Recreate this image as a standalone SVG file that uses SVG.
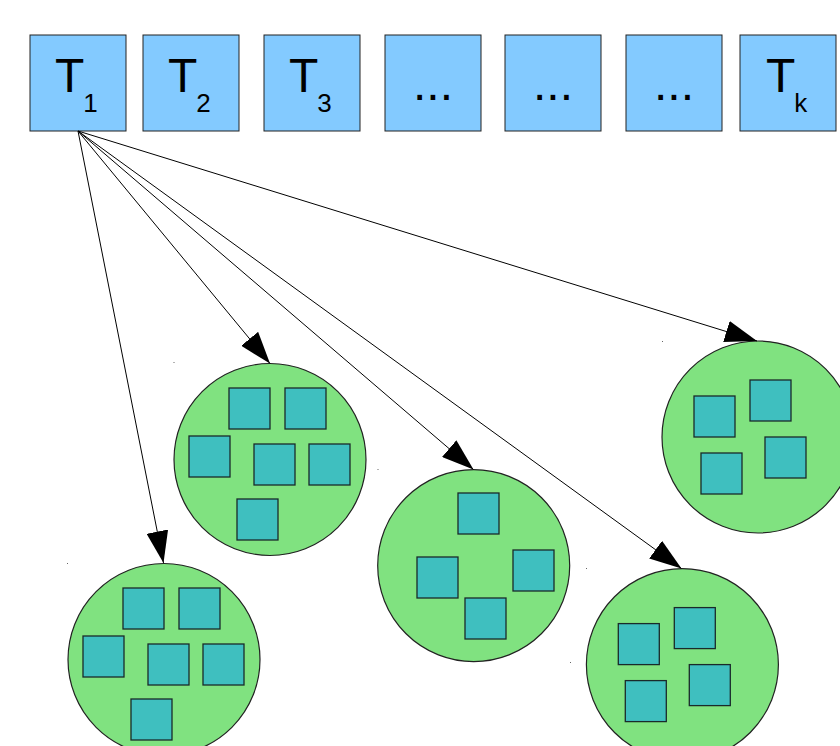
<svg xmlns="http://www.w3.org/2000/svg" width="840" height="746" viewBox="0 0 840 746">
<style>
.box{fill:#83caff;stroke:#222;stroke-width:1}
.t{font-family:"Liberation Sans",Arial,sans-serif;font-size:48px;fill:#000}
.sub{font-size:26px}
.cir{fill:#80e280;stroke:#222;stroke-width:1.2}
.sq{fill:#3fbfbf;stroke:#1a2a2a;stroke-width:1.3}
.ln{stroke:#000;stroke-width:1;fill:none;marker-end:url(#ah)}
.dot{fill:#666}
</style>
<defs>
<marker id="ah" markerUnits="userSpaceOnUse" markerWidth="32" markerHeight="22" refX="32" refY="11" orient="auto">
<path d="M0,0 L32,11 L0,22 Z" fill="#000"/>
</marker>
<g id="pat6">
<rect class="sq" x="-41" y="-71" width="41" height="41"/>
<rect class="sq" x="15" y="-71" width="41" height="41"/>
<rect class="sq" x="-81" y="-23" width="41" height="41"/>
<rect class="sq" x="-16" y="-15" width="41" height="41"/>
<rect class="sq" x="39" y="-15" width="41" height="41"/>
<rect class="sq" x="-33" y="40" width="41" height="41"/>
</g>
<g id="pat4">
<rect class="sq" x="-64" y="-41" width="41" height="41"/>
<rect class="sq" x="-8" y="-57" width="41" height="41"/>
<rect class="sq" x="7" y="0" width="41" height="41"/>
<rect class="sq" x="-57" y="16" width="41" height="41"/>
</g>
</defs>
<rect width="840" height="746" fill="#fff"/>

<g id="T1"><rect class="box" x="30" y="35" width="96" height="96"/><text class="t" x="55" y="92">T<tspan class="sub" dx="-1" dy="20">1</tspan></text></g>
<g id="T2"><rect class="box" x="143" y="35" width="96" height="96"/><text class="t" x="168" y="92">T<tspan class="sub" dx="-1" dy="20">2</tspan></text></g>
<g id="T3"><rect class="box" x="264" y="35" width="96" height="96"/><text class="t" x="289" y="92">T<tspan class="sub" dx="-1" dy="20">3</tspan></text></g>
<g id="D1"><rect class="box" x="385" y="35" width="96" height="96"/><text class="t" x="413" y="100">...</text></g>
<g id="D2"><rect class="box" x="505" y="35" width="96" height="96"/><text class="t" x="533" y="100">...</text></g>
<g id="D3"><rect class="box" x="626" y="35" width="96" height="96"/><text class="t" x="654" y="100">...</text></g>
<g id="Tk"><rect class="box" x="740" y="35" width="96" height="96"/><text class="t" x="766" y="92">T<tspan class="sub" dx="-1" dy="20">k</tspan></text></g>

<g id="circleA"><circle class="cir" cx="270" cy="459.5" r="96"/><use href="#pat6" transform="translate(270,459)"/></g>
<g id="circleB"><circle class="cir" cx="164" cy="659.5" r="96"/><use href="#pat6" transform="translate(164,659)"/></g>
<g id="circleC"><circle class="cir" cx="473.7" cy="565.6" r="96"/>
<rect class="sq" x="458" y="493" width="41" height="41"/>
<rect class="sq" x="417" y="557" width="41" height="41"/>
<rect class="sq" x="513" y="550" width="41" height="41"/>
<rect class="sq" x="465" y="598" width="41" height="41"/>
</g>
<g id="circleD"><circle class="cir" cx="682.4" cy="664.6" r="96"/><use href="#pat4" transform="translate(682.3,664.6)"/></g>
<g id="circleE"><circle class="cir" cx="758" cy="437" r="96"/><use href="#pat4" transform="translate(758,437)"/></g>

<g id="marks">
<rect class="dot" x="173.5" y="362" width="1" height="1"/>
<rect class="dot" x="67" y="563" width="1" height="1"/>
<rect class="dot" x="377.5" y="469" width="1" height="1"/>
<rect class="dot" x="586" y="568" width="1" height="1"/>
<rect class="dot" x="662" y="341" width="1" height="1"/>
<rect class="dot" x="570" y="662" width="1" height="1"/>
</g>

<g id="connectors">
<line class="ln" x1="78" y1="131" x2="163.5" y2="563"/>
<line class="ln" x1="78" y1="131" x2="270" y2="363.5"/>
<line class="ln" x1="78" y1="131" x2="473.5" y2="469.5"/>
<line class="ln" x1="78" y1="131" x2="681.5" y2="568.5"/>
<line class="ln" x1="78" y1="131" x2="757" y2="341"/>
</g>
</svg>
